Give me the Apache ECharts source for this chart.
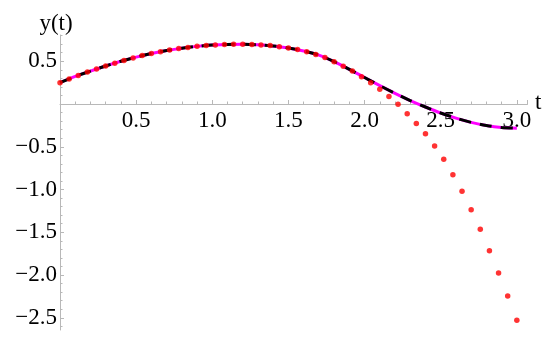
<!DOCTYPE html>
<html>
<head>
<meta charset="utf-8">
<script src="https://cdn.jsdelivr.net/npm/echarts@6/dist/echarts.min.js"></script>
<style>html,body{margin:0;padding:0;background:#fff}#c{width:550px;height:337px}</style>
</head>
<body>
<div id="c"></div>
<script>
// exact solution samples
const curveT = [0,0.1,0.2,0.3,0.4,0.5,0.6,0.7,0.8,0.9,1.0,1.1,1.2,1.3,1.4,1.5,1.6,1.7,1.8,1.9,2.0,2.1,2.2,2.3,2.4,2.5,2.6,2.7,2.8,2.9,3.0];
const curveY = [0.25,0.322,0.385,0.445,0.50,0.548,0.59,0.625,0.653,0.674,0.689,0.697,0.698,0.693,0.679,0.655,0.62,0.572,0.495,0.405,0.31,0.215,0.125,0.04,-0.035,-0.105,-0.165,-0.215,-0.252,-0.275,-0.283];
// series approximation (dots)
const dotT = [0,0.06,0.12,0.18,0.24,0.30,0.36,0.42,0.48,0.54,0.60,0.66,0.72,0.78,0.84,0.90,0.96,1.02,1.08,1.14,1.20,1.26,1.32,1.38,1.44,1.50,1.56,1.62,1.68,1.74,1.80,1.86,1.92,1.98,2.04,2.10,2.16,2.22,2.28,2.34,2.40,2.46,2.52,2.58,2.64,2.70,2.76,2.82,2.88,2.94,3.00];
const dotY = [0.25,0.293,0.334,0.373,0.409,0.445,0.478,0.51,0.539,0.566,0.59,0.612,0.631,0.648,0.662,0.674,0.684,0.691,0.696,0.698,0.698,0.696,0.691,0.683,0.670,0.655,0.636,0.611,0.580,0.545,0.495,0.442,0.385,0.32,0.249,0.173,0.088,-0.004,-0.113,-0.228,-0.347,-0.491,-0.647,-0.826,-1.021,-1.236,-1.465,-1.716,-1.977,-2.246,-2.530];
const xTicks = [0.5,1.0,1.5,2.0,2.5,3.0];
const yTicks = [0.5,-0.5,-1.0,-1.5,-2.0,-2.5];
const yMinor = [0.1,0.2,0.3,0.4,0.6,0.7,0.8,-0.1,-0.2,-0.3,-0.4,-0.6,-0.7,-0.8,-0.9,-1.1,-1.2,-1.3,-1.4,-1.6,-1.7,-1.8,-1.9,-2.1,-2.2,-2.3,-2.4,-2.6];

const font = 'Liberation Serif';
const FS = 23;
const fmt = v => '{s|' + (v < 0 ? '\u2212' + Math.abs(v).toFixed(1) : v.toFixed(1)) + '}';
const xfmt = v => (xTicks.some(t => Math.abs(t - v) < 1e-6) ? '{s|' + v.toFixed(1) + '}' : '');
const XMIN = 0, XMAX = 3.07, YMIN = -2.643, YMAX = 0.807;
const axisColor = '#b8b8b8';
const rich = {s: {color: '#000', fontFamily: font, fontSize: FS}};
const labelStyle = {color: '#000', fontFamily: font, fontSize: FS};

const curve = curveT.map((t, i) => [t, curveY[i]]);
const dots = dotT.map((t, i) => [t, dotY[i]]);

// y = 0 lies at pixel 35 + 295 * YMAX / (YMAX - YMIN)
const zeroPx = 35 + 295 * YMAX / (YMAX - YMIN);

const chart = echarts.init(document.getElementById('c'), null, {renderer: 'canvas'});
chart.setOption({
  animation: false,
  backgroundColor: '#fff',
  textStyle: {fontFamily: font},
  grid: [
    {left: 60, right: 22.5, top: 35, bottom: 7, containLabel: false, outerBoundsMode: 'none'},
    {left: 60, right: 22.5, top: 35, height: zeroPx - 35, containLabel: false, outerBoundsMode: 'none'}
  ],
  xAxis: [{
    gridIndex: 0, type: 'value', min: XMIN, max: XMAX,
    axisLine: {show: false}, axisTick: {show: false}, axisLabel: {show: false}, splitLine: {show: false}
  }, {
    gridIndex: 1, type: 'value', min: XMIN, max: XMAX, interval: 0.5, position: 'bottom',
    axisLine: {show: true, onZero: false, lineStyle: {color: axisColor, width: 1}},
    axisTick: {show: true, inside: true, length: 4, lineStyle: {color: axisColor}},
    minorTick: {show: true, splitNumber: 5, length: 2.5, lineStyle: {color: axisColor}},
    axisLabel: Object.assign({show: true, formatter: xfmt, margin: 5, rich: rich}, labelStyle),
    splitLine: {show: false}, minorSplitLine: {show: false},
    name: 't', nameLocation: 'end', nameGap: -1,
    nameTextStyle: Object.assign({verticalAlign: 'bottom', padding: [0,0,-10,0]}, labelStyle)
  }],
  yAxis: [{
    gridIndex: 0, type: 'value', min: YMIN, max: YMAX, position: 'left',
    axisLine: {show: true, onZero: false, lineStyle: {color: axisColor, width: 1}},
    axisTick: {show: true, inside: true, length: 4, customValues: yTicks, lineStyle: {color: axisColor}},
    axisLabel: Object.assign({show: true, customValues: yTicks, formatter: fmt, margin: 3, rich: rich}, labelStyle),
    splitLine: {show: false},
    name: 'y(t)', nameLocation: 'end', nameGap: 0,
    nameTextStyle: Object.assign({align: 'center', padding: [0,8,0,0]}, labelStyle)
  }, {
    gridIndex: 0, type: 'value', min: YMIN, max: YMAX, position: 'left', offset: 0,
    axisLine: {show: false, onZero: false},
    axisTick: {show: true, inside: true, length: 2.5, customValues: yMinor, lineStyle: {color: axisColor}},
    axisLabel: {show: false}, splitLine: {show: false}
  }, {
    gridIndex: 1, type: 'value', min: 0, max: YMAX, show: false
  }],
  series: [{
    type: 'line', data: curve, smooth: 0.3, showSymbol: false, xAxisIndex: 0, yAxisIndex: 0,
    lineStyle: {color: '#ff00ff', width: 3}, z: 2
  }, {
    type: 'line', data: curve, smooth: 0.3, showSymbol: false, xAxisIndex: 0, yAxisIndex: 0,
    lineStyle: {color: '#000', width: 3, type: [12, 9]}, z: 3
  }, {
    type: 'scatter', data: dots, xAxisIndex: 0, yAxisIndex: 0,
    symbol: 'circle', symbolSize: 5.5, itemStyle: {color: '#ff0000'}, z: 4
  }]
});
</script>
</body>
</html>
